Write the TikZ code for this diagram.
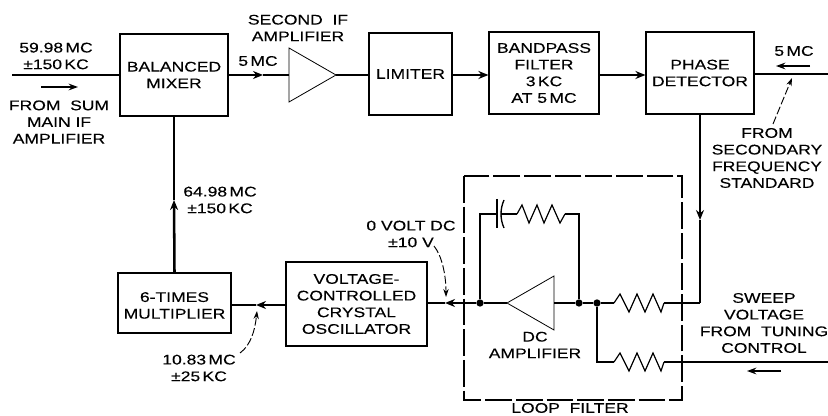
\documentclass[tikz,border=0pt]{standalone}
\usepackage{fontspec}
\setmainfont[FakeStretch=1.25,FakeBold=0.2]{Liberation Sans}
\usetikzlibrary{arrows.meta}
\tikzset{
  boxed/.style={draw,line width=0.9pt,inner sep=0pt,align=center,font=\lab},
  lab/.style={inner sep=0pt,align=center,font=\lab},
  sig/.style={line width=1.9pt},
  sigarrow/.style={line width=1.9pt,-{Stealth[length=7.5pt,width=6pt]}},
  thin wire/.style={line width=1.1pt},
  amp/.style={line width=0.6pt,line join=miter},
  res/.style={line width=0.9pt,line join=miter},
  dot/.style={circle,fill=black,inner sep=0pt,minimum size=5.5pt},
  lead/.style={line width=0.7pt,dash pattern=on 6pt off 2pt,-{Stealth[length=6pt,width=4pt]}},
  flow/.style={line width=1.4pt,-{Stealth[length=7pt,width=5pt]}},
  loopbox/.style={line width=0.8pt,dash pattern=on 20pt off 3pt}
}
\newcommand\lab{\fontsize{10.5}{12.5}\selectfont}
\begin{document}
\begin{tikzpicture}[x=0.75pt,y=-0.75pt]
\useasboundingbox (0,0) rectangle (828,416);
% blocks
\node[boxed,minimum width=81pt,minimum height=61.5pt] (mixer) at (174,75) {BALANCED\\MIXER};
\node[boxed,minimum width=62.25pt,minimum height=61.5pt] (limiter) at (410.5,74) {LIMITER};
\node[boxed,minimum width=82.5pt,minimum height=61.5pt] (bandpass) at (544,73) {BANDPASS\\FILTER\\3\,KC\\AT 5\,MC};
\node[boxed,minimum width=81pt,minimum height=61.5pt] (phase) at (700,73) {PHASE\\DETECTOR};
\node[boxed,minimum width=84.75pt,minimum height=45pt] (mult) at (174.5,303) {\rule{0pt}{11pt}6-TIMES\\MULTIPLIER};
\node[boxed,minimum width=105.75pt,minimum height=63pt] (vco) at (356.5,304) {VOLTAGE-\\CONTROLLED\\CRYSTAL\\OSCILLATOR};
% amplifiers
\coordinate (ifin) at (289,75); \coordinate (ifout) at (336,75);
\draw[amp] (289,48) -- (ifout) -- (289,102) -- cycle;
\coordinate (dcout) at (554,303); \coordinate (dcin) at (507,303);
\draw[amp] (554,276) -- (dcin) -- (554,330) -- cycle;
% loop filter box
\coordinate (lfa) at (464,176); \coordinate (lfb) at (682,400);
\draw[loopbox] (lfa) rectangle (lfb);
% top path
\coordinate (inL) at (12,75);
\coordinate (tipA) at (263,75);
\draw[sig] (inL) -- (mixer.west |- inL);
\draw[sigarrow] (mixer.east |- tipA) -- (tipA);
\draw[sig] (tipA) -- (ifin);
\draw[sig] (ifout) -- (limiter.west |- ifout);
\draw[sigarrow] (limiter.east |- 0,75) -- (bandpass.west |- 0,75);
\draw[sigarrow] (bandpass.east |- 0,75) -- (phase.west |- 0,75);
\coordinate (refR) at (828,74);
\draw[sig] (refR) -- (phase.east |- refR);
% phase down
\coordinate (corner) at (700,303);
\coordinate (tipB) at (700,220);
\draw[sigarrow] (phase.south) -- (tipB);
\draw[sig] (tipB) -- (corner);
% mixer feedback
\coordinate (tipC) at (174,200);
\draw[sigarrow] (mult.north) -- (tipC);
\draw[sig] (tipC) -- (mixer.south);
% multiplier - vco
\coordinate (tipD) at (256,305);
\draw[sigarrow] (vco.west |- tipD) -- (tipD);
\draw[sig] (tipD) -- (mult.east |- tipD);
% vco - loop filter
\node[dot] (n1) at (480,303) {};
\node[dot] (n2) at (579,303) {};
\node[dot] (n3) at (597,303) {};
\coordinate (tipE) at (445,303);
\draw[sigarrow] (n1) -- (tipE);
\draw[sig] (tipE) -- (vco.east |- tipE);
\draw[sig] (n1) -- (dcin);
\draw[sig] (dcout) -- (n2);
\draw[sig] (n2) -- (n3);
% feedback network
\coordinate (fbL) at (480,214); \coordinate (fbR) at (579,214);
\coordinate (capA) at (497,214); \coordinate (capB) at (501,214);
\coordinate (rfa) at (517,214); \coordinate (rfb) at (565,214);
\draw[sig,line join=miter] (n1) -- (fbL) -- (capA);
\draw[sig,line join=miter] (n2) -- (fbR) -- (rfb);
\draw[sig] (capB) -- (rfa);
\draw[line width=1pt] (497,199) -- (497,228);
\draw[line width=1pt] (504,200) .. controls (500,209) and (500,219) .. (504,228);
\draw[res] (rfa) -- (522,205) -- (529,223) -- (537,205) -- (544,223) -- (552,205) -- (560,223) -- (rfb);
% input resistors
\coordinate (r1a) at (614,303); \coordinate (r1b) at (664,303);
\coordinate (r2a) at (614,362); \coordinate (r2b) at (664,362);
\coordinate (n3b) at (597,362); \coordinate (swR) at (828,362);
\draw[sig] (n3) -- (r1a);
\draw[res] (r1a) -- ++(6,-9) -- ++(9,18) -- ++(8,-18) -- ++(8,18) -- ++(8,-18) -- ++(8,18) -- (r1b);
\draw[sig,line join=miter] (r1b) -- (corner);
\draw[sig,line join=miter] (n3) -- (n3b) -- (r2a);
\draw[res] (r2a) -- ++(6,-9) -- ++(9,18) -- ++(8,-18) -- ++(8,18) -- ++(8,-18) -- ++(8,18) -- (r2b);
\draw[thin wire] (r2b) -- (swR);
% free flow arrows
\coordinate (fa1) at (41,87); \coordinate (fa2) at (78,87);
\draw[flow] (fa1) -- (fa2);
\coordinate (fb1) at (810,66); \coordinate (fb2) at (776,66);
\draw[flow] (fb1) -- (fb2);
\coordinate (fc1) at (781,371); \coordinate (fc2) at (747,371);
\draw[flow] (fc1) -- (fc2);
% labels
\node[lab] (t1) at (56,56) {59.98\,MC\\±150\,KC};
\node[lab] (t2) at (59,122) {FROM\ \ SUM\\MAIN IF\\AMPLIFIER};
\node[lab] (t3) at (258,61) {5\,MC};
\node[lab] (t4) at (298,28) {SECOND\ \ IF\\AMPLIFIER};
\node[lab] (t5) at (794,51) {5\,MC};
\node[lab] (t6) at (767,158) {FROM\\SECONDARY\\FREQUENCY\\STANDARD};
\node[lab] (t7) at (220,200) {64.98\,MC\\±150\,KC};
\node[lab] (t8) at (199,368) {10.83\,MC\\±25\,KC};
\node[lab] (t9) at (411,234) {0 VOLT DC\\±10 V};
\node[lab] (t10) at (535,345) {DC\\AMPLIFIER};
\node[lab] (t11) at (764,323) {SWEEP\\VOLTAGE\\FROM\ \ TUNING\\CONTROL};
\node[lab] (t12) at (570,408) {LOOP\ \ FILTER};
% dashed leaders
\coordinate (la1) at (773,124); \coordinate (la2) at (792,78);
\draw[lead] (la1) -- (la2);
\coordinate (lb1) at (240,353); \coordinate (lb2) at (257,311);
\draw[lead] (lb1) .. controls (251,345) and (255,330) .. (lb2);
\coordinate (lc1) at (434,246); \coordinate (lc2) at (446,297);
\draw[lead] (lc1) .. controls (442,256) and (446,275) .. (lc2);
\end{tikzpicture}
\end{document}
